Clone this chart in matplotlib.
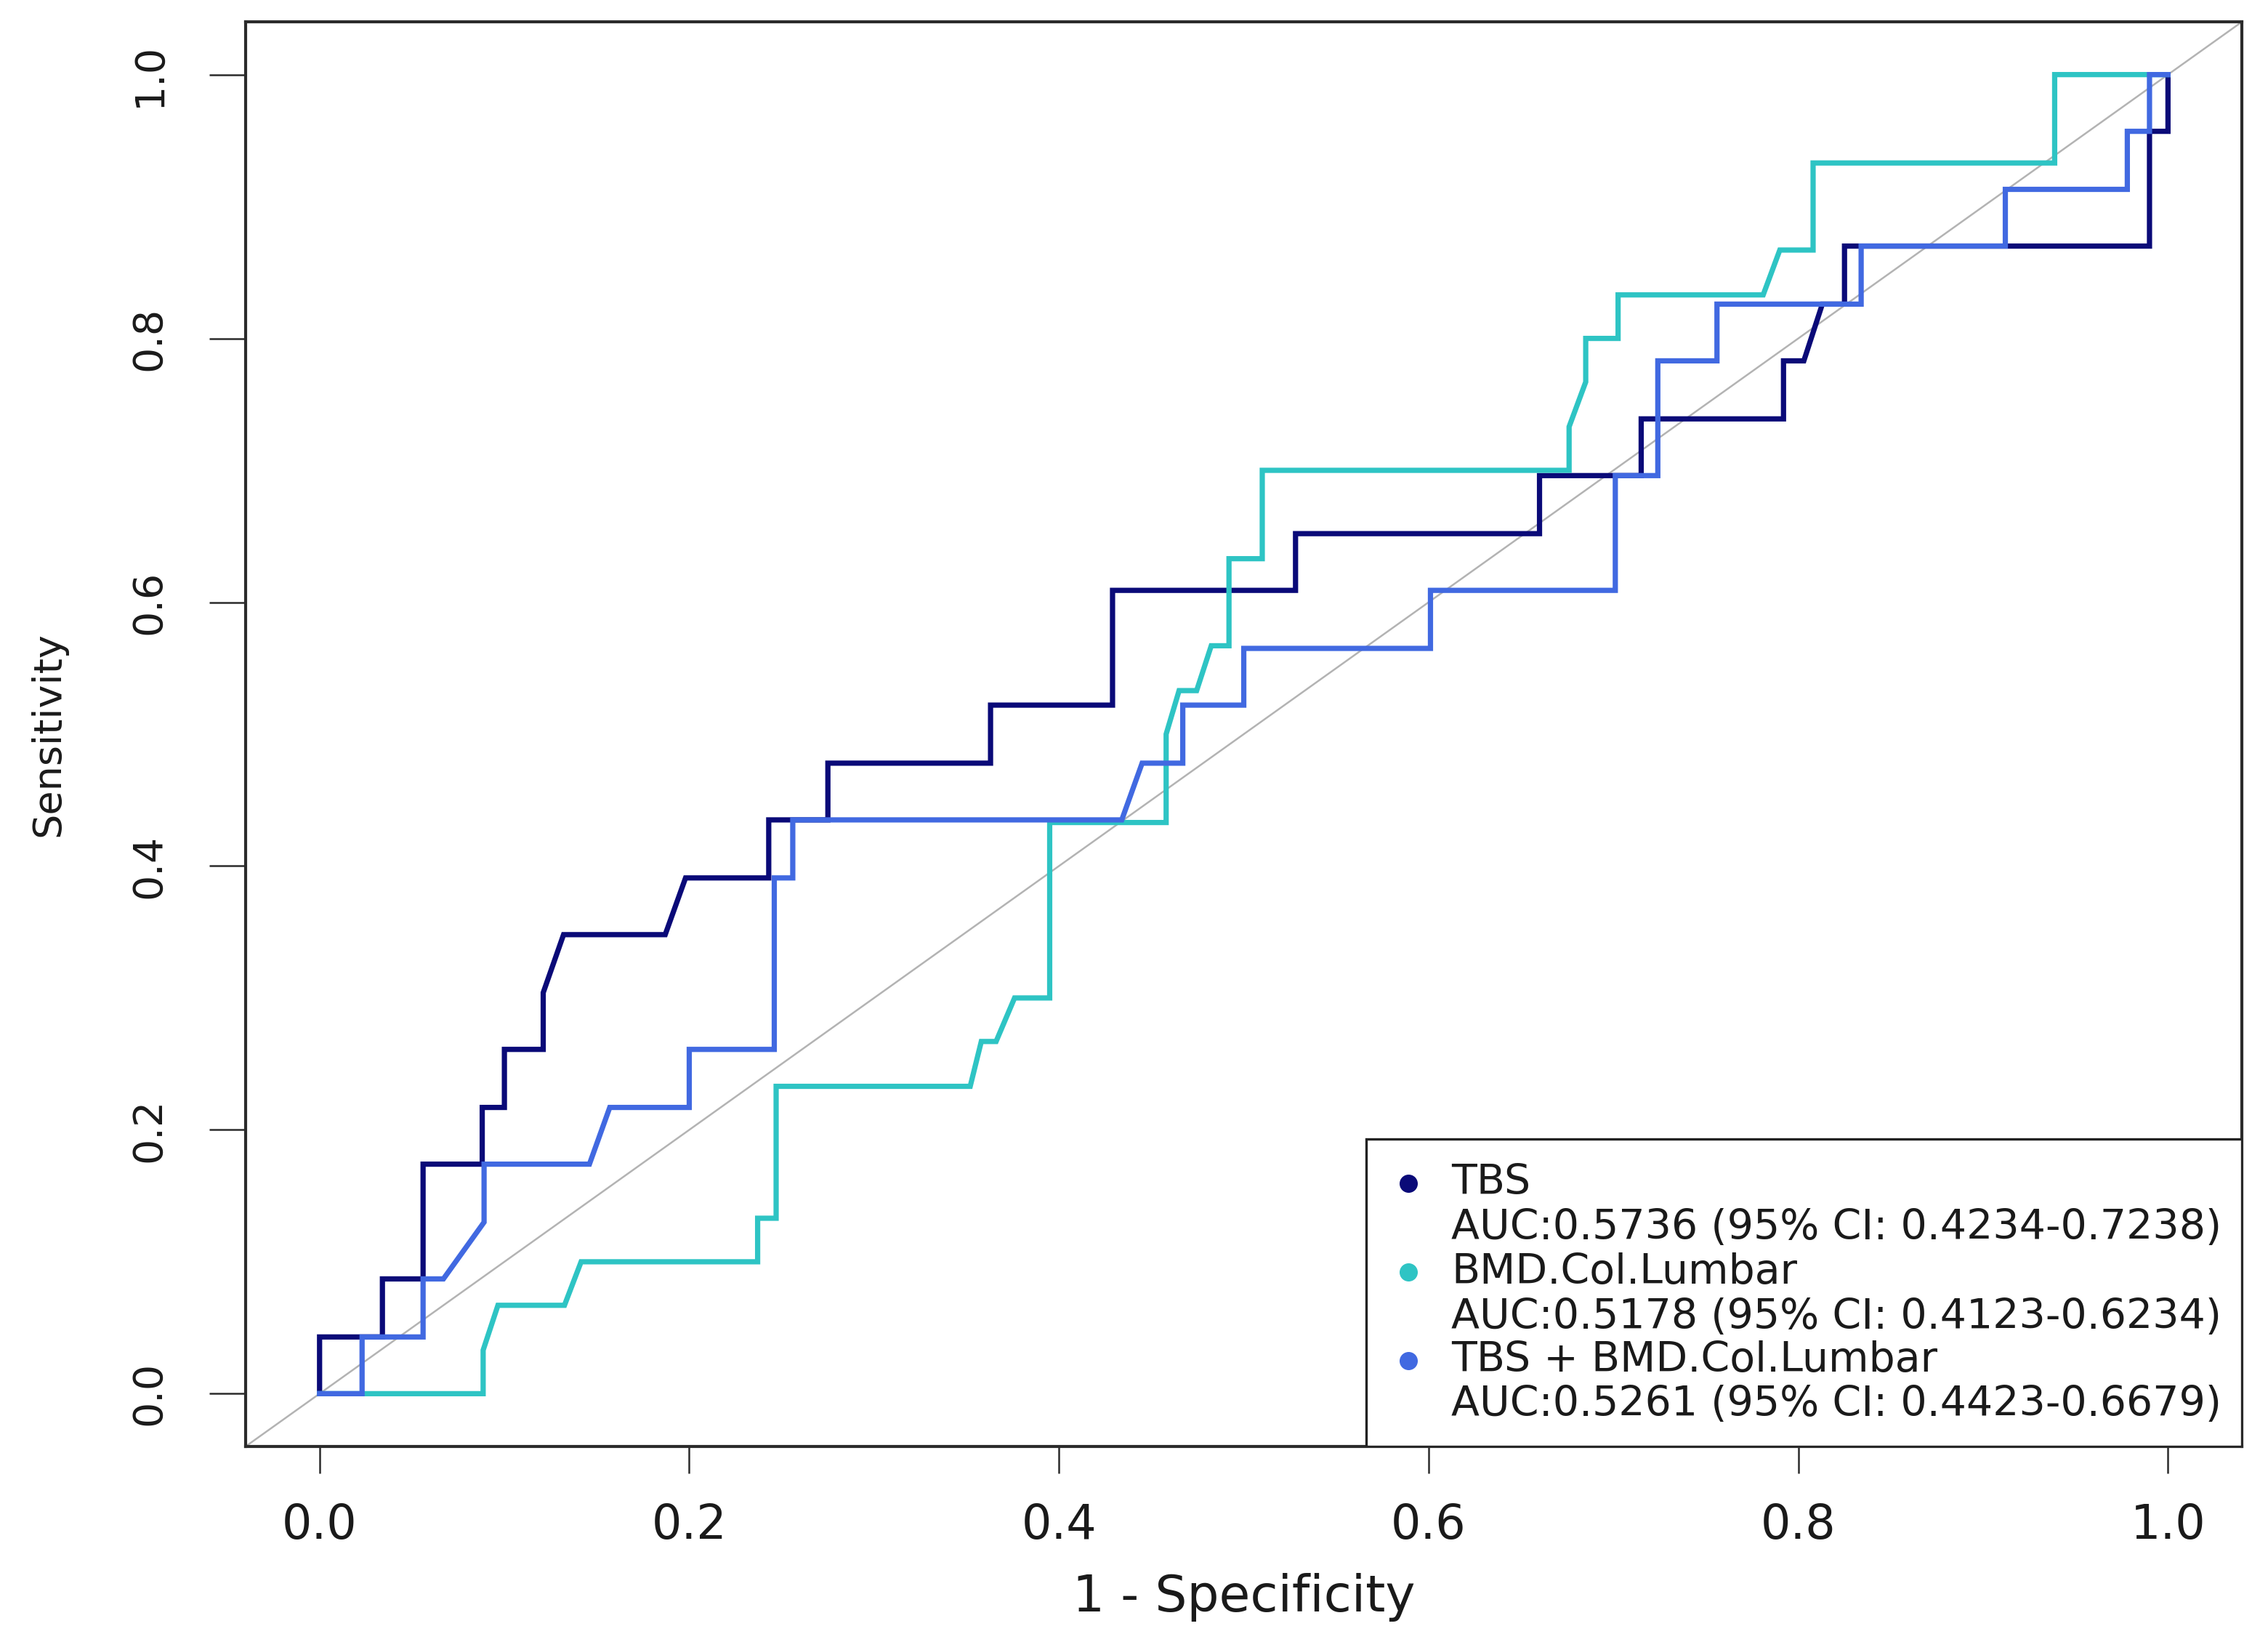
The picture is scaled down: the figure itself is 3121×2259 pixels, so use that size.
#!/usr/bin/env python
"""ROC curves for TBS, lumbar BMD and the combined model (redrawn from the R/pROC figure)."""

import matplotlib.pyplot as plt
from matplotlib.patches import Rectangle
from matplotlib.ticker import FormatStrFormatter

plt.switch_backend("Agg")

# ROC coordinates: 1 - specificity (fpr) and sensitivity (tpr).
tbs_fpr = [0.0, 0.0, 0.034, 0.034, 0.056, 0.056, 0.088, 0.088, 0.100, 0.100,
           0.121, 0.121, 0.132, 0.187, 0.198, 0.243, 0.243, 0.275, 0.275, 0.363,
           0.363, 0.429, 0.429, 0.528, 0.528, 0.660, 0.660, 0.715, 0.715, 0.792,
           0.792, 0.803, 0.813, 0.825, 0.825, 0.990, 0.990, 1.0, 1.0]
tbs_tpr = [0.0, 0.043, 0.043, 0.087, 0.087, 0.174, 0.174, 0.217, 0.217, 0.261,
           0.261, 0.304, 0.348, 0.348, 0.391, 0.391, 0.435, 0.435, 0.478, 0.478,
           0.522, 0.522, 0.609, 0.609, 0.652, 0.652, 0.696, 0.696, 0.739, 0.739,
           0.783, 0.783, 0.826, 0.826, 0.870, 0.870, 0.957, 0.957, 1.0]

bmd_fpr = [0.0, 0.0885, 0.0885, 0.0965, 0.1325, 0.1415, 0.237, 0.237, 0.247, 0.247,
           0.352, 0.358, 0.366, 0.376, 0.395, 0.395, 0.458, 0.458, 0.465, 0.4745,
           0.4824, 0.492, 0.492, 0.510, 0.510, 0.676, 0.676, 0.685, 0.685, 0.7025,
           0.7025, 0.781, 0.790, 0.808, 0.808, 0.9387, 0.9387, 1.0]
bmd_tpr = [0.0, 0.0, 0.033, 0.067, 0.067, 0.100, 0.100, 0.133, 0.133, 0.233,
           0.233, 0.267, 0.267, 0.300, 0.300, 0.433, 0.433, 0.500, 0.533, 0.533,
           0.567, 0.567, 0.633, 0.633, 0.700, 0.700, 0.733, 0.767, 0.800, 0.800,
           0.833, 0.833, 0.867, 0.867, 0.933, 0.933, 1.0, 1.0]

combo_fpr = [0.0, 0.023, 0.023, 0.056, 0.056, 0.067, 0.089, 0.089, 0.146, 0.157,
             0.200, 0.200, 0.246, 0.246, 0.256, 0.256, 0.434, 0.445, 0.467, 0.467,
             0.500, 0.500, 0.601, 0.601, 0.701, 0.701, 0.724, 0.724, 0.756, 0.756,
             0.834, 0.834, 0.912, 0.912, 0.978, 0.978, 0.990, 0.990, 1.0]
combo_tpr = [0.0, 0.0, 0.043, 0.043, 0.087, 0.087, 0.130, 0.174, 0.174, 0.217,
             0.217, 0.261, 0.261, 0.391, 0.391, 0.435, 0.435, 0.478, 0.478, 0.522,
             0.522, 0.565, 0.565, 0.609, 0.609, 0.696, 0.696, 0.783, 0.783, 0.826,
             0.826, 0.870, 0.870, 0.913, 0.913, 0.957, 0.957, 1.0, 1.0]

model_names = ["TBS", "BMD.Col.Lumbar", "TBS + BMD.Col.Lumbar"]
auc_values = [0.5736, 0.5178, 0.5261]
ci_low = [0.4234, 0.4123, 0.4423]
ci_high = [0.7238, 0.6234, 0.6679]
model_colors = ["#0a0a78", "#2ec4c4", "#4169e1"]

axis_ticks = [0.0, 0.2, 0.4, 0.6, 0.8, 1.0]

TEXT = "#1a1a1a"
FONT = "DejaVu Sans"


def _draw_legend(ax):
    """Box in the lower right, one dot + two text lines per model."""
    ax.add_patch(Rectangle((0.5613, 0.0), 1.0 - 0.5613, 0.2158, transform=ax.transAxes,
                           facecolor="white", edgecolor="#222222", lw=2.4, zorder=5))
    rows = [(0.1847, 0.1531), (0.1224, 0.0903), (0.0602, 0.0291)]
    for i, (name, (y_name, y_auc)) in enumerate(zip(model_names, rows)):
        ax.plot([0.5825], [y_name], "o", ms=17, color=model_colors[i],
                transform=ax.transAxes, clip_on=False, zorder=6)
        ax.text(0.6039, y_name, name, transform=ax.transAxes, va="center", ha="left",
                fontsize=41, color=TEXT, family=FONT, zorder=6)
        label = f"AUC:{auc_values[i]:.4f} (95% CI: {ci_low[i]:.4f}-{ci_high[i]:.4f})"
        ax.text(0.6039, y_auc, label, transform=ax.transAxes, va="center", ha="left",
                fontsize=41, color=TEXT, family=FONT, zorder=6)


def main():
    fig = plt.figure(figsize=(31.21, 22.59), dpi=100)
    ax = fig.add_axes((0.1083, 0.1191, 0.8802, 0.8676))

    # chance line first, curves on top in the order pROC added them
    ax.axline((0, 0), (1, 1), color="#b3b3b3", lw=1.8, zorder=1)
    curves = [(tbs_fpr, tbs_tpr), (bmd_fpr, bmd_tpr), (combo_fpr, combo_tpr)]
    for (fpr, tpr), color in zip(curves, model_colors):
        ax.plot(fpr, tpr, color=color, lw=5.2, solid_joinstyle="miter", zorder=3)

    ax.set_xlim(-0.04, 1.04)
    ax.set_ylim(-0.04, 1.04)
    ax.set_xticks(axis_ticks)
    ax.set_yticks(axis_ticks)
    ax.xaxis.set_major_formatter(FormatStrFormatter("%.1f"))
    ax.yaxis.set_major_formatter(FormatStrFormatter("%.1f"))

    for side in ax.spines.values():
        side.set_linewidth(3.0)
        side.set_color("#2b2b2b")

    ax.tick_params(axis="x", length=26.6, width=1.8, color="#2b2b2b", pad=29,
                   labelsize=47, labelcolor=TEXT)
    ax.tick_params(axis="y", length=36, width=1.8, color="#2b2b2b", pad=40,
                   labelsize=40, labelcolor=TEXT, labelrotation=90)
    for lab in ax.get_xticklabels() + ax.get_yticklabels():
        lab.set_family(FONT)
    for lab in ax.get_yticklabels():
        lab.set_verticalalignment("center")

    ax.set_xlabel("1 - Specificity", fontsize=50, color=TEXT, family=FONT)
    ax.xaxis.set_label_coords(0.5, -0.1158)
    ax.xaxis.label.set_verticalalignment("baseline")
    ax.set_ylabel("Sensitivity", fontsize=39, color=TEXT, family=FONT)
    ax.yaxis.set_label_coords(-0.0988, 0.5)
    ax.yaxis.label.set_verticalalignment("center")

    _draw_legend(ax)

    fig.savefig("out.png", dpi=100, facecolor="white")
    plt.close(fig)


if __name__ == "__main__":
    main()
